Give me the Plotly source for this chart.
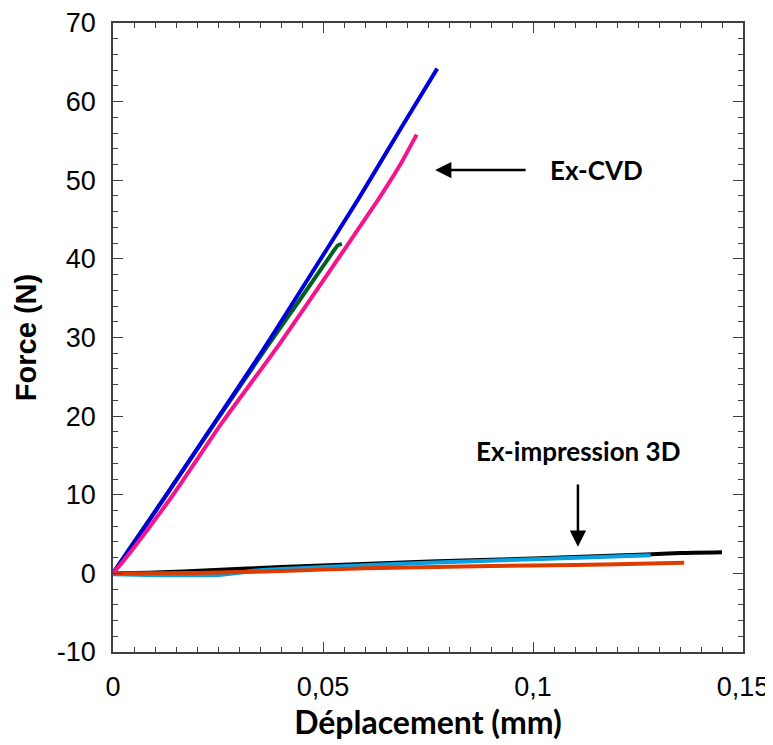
import plotly.graph_objects as go

# Ex-CVD curves
blue_x = [0, 0.004, 0.013, 0.025, 0.0357, 0.0433, 0.0583, 0.0683, 0.0772]
blue_y = [0, 3.1, 10.2, 19.8, 28.4, 34.8, 47.5, 56.4, 64.2]
green_x = [0, 0.004, 0.0131, 0.025, 0.036, 0.0445, 0.052, 0.0535, 0.0545]
green_y = [0, 3.2, 10.3, 19.7, 28.3, 34.8, 40.6, 41.7, 41.9]
pink_x = [0, 0.004, 0.0143, 0.026, 0.0386, 0.0469, 0.0631, 0.0683, 0.0723]
pink_y = [0, 2.6, 10.0, 19.2, 28.4, 34.8, 47.5, 51.9, 55.8]

# Ex-impression 3D curves
black_x = [0, 0.01, 0.023, 0.04, 0.0755, 0.1, 0.127, 0.135, 0.145]
black_y = [0, 0.1, 0.4, 0.8, 1.5, 1.9, 2.4, 2.6, 2.7]
cyan_x = [0, 0.015, 0.025, 0.035, 0.05, 0.075, 0.1, 0.128]
cyan_y = [-0.1, -0.25, -0.2, 0.4, 0.8, 1.35, 1.8, 2.3]
orange_x = [0, 0.02, 0.04, 0.06, 0.08, 0.1, 0.12, 0.136]
orange_y = [0, 0.05, 0.3, 0.65, 0.85, 1.0, 1.15, 1.35]

x_tickvals = [0, 0.05, 0.1, 0.15]
x_ticktext = ["0", "0,05", "0,1", "0,15"]
y_tickvals = [-10, 0, 10, 20, 30, 40, 50, 60, 70]
y_ticktext = ["-10", "0", "10", "20", "30", "40", "50", "60", "70"]

series = [
    (black_x, black_y, "#000000"),
    (cyan_x, cyan_y, "#0aa0e0"),
    (orange_x, orange_y, "#dd3c00"),
    (green_x, green_y, "#006020"),
    (blue_x, blue_y, "#0000dd"),
    (pink_x, pink_y, "#f5148c"),
]

fig = go.Figure()
for xs, ys, c in series:
    fig.add_trace(go.Scatter(x=xs, y=ys, mode="lines",
                             line=dict(color=c, width=4, shape="spline", smoothing=0.6),
                             showlegend=False))

axis_common = dict(
    showline=True, linecolor="#404040", linewidth=1.5, mirror="allticks",
    ticks="inside", ticklen=10, tickwidth=1.3, tickcolor="#404040",
    showgrid=False, zeroline=False, automargin=False,
    tickfont=dict(family="Liberation Sans, Arial", size=27, color="#000"),
)

fig.update_xaxes(range=[0, 0.15], tickvals=x_tickvals, ticktext=x_ticktext,
                 ticklabelstandoff=10,
                 minor=dict(dtick=0.005, ticks="inside", ticklen=5, tickcolor="#404040", tickwidth=1.2),
                 title=dict(text="Déplacement (mm)", font=dict(family="Lato", size=32, color="#000", weight="bold"), standoff=6),
                 **axis_common)
fig.update_yaxes(range=[-10, 70], tickvals=y_tickvals, ticktext=y_ticktext,
                 ticklabelstandoff=10,
                 minor=dict(dtick=2, ticks="inside", ticklen=5, tickcolor="#404040", tickwidth=1.2),
                 title=dict(text="<b>Force (N)</b>", font=dict(family="Liberation Sans, Arial", size=29, color="#000"), standoff=12),
                 **axis_common)

fig.add_annotation(x=0.0767, y=51.3, ax=0.0986, ay=51.3, xref="x", yref="y", axref="x", ayref="y",
                   text="", showarrow=True, arrowhead=2, arrowsize=1.3, arrowwidth=2.5, arrowcolor="#000")
fig.add_annotation(x=0.1150, y=51.3, xref="x", yref="y", text="<b>Ex-CVD</b>", showarrow=False,
                   font=dict(family="Lato", size=26, color="#000"))
fig.add_annotation(x=0.1107, y=3.4, ax=0.1107, ay=11.5, xref="x", yref="y", axref="x", ayref="y",
                   text="", showarrow=True, arrowhead=2, arrowsize=1.3, arrowwidth=2.5, arrowcolor="#000")
fig.add_annotation(x=0.1107, y=13.3, xref="x", yref="y", text="<b>Ex-impression 3D</b>", showarrow=False,
                   yanchor="bottom", font=dict(family="Lato", size=26, color="#000"))

# the page body adds an 8px offset; compensate so the plot area lands where the reference has it
fig.update_layout(width=765, height=737, margin=dict(l=105, r=30, t=15, b=93),
                  plot_bgcolor="white", paper_bgcolor="white")

fig.write_html("out.html")
